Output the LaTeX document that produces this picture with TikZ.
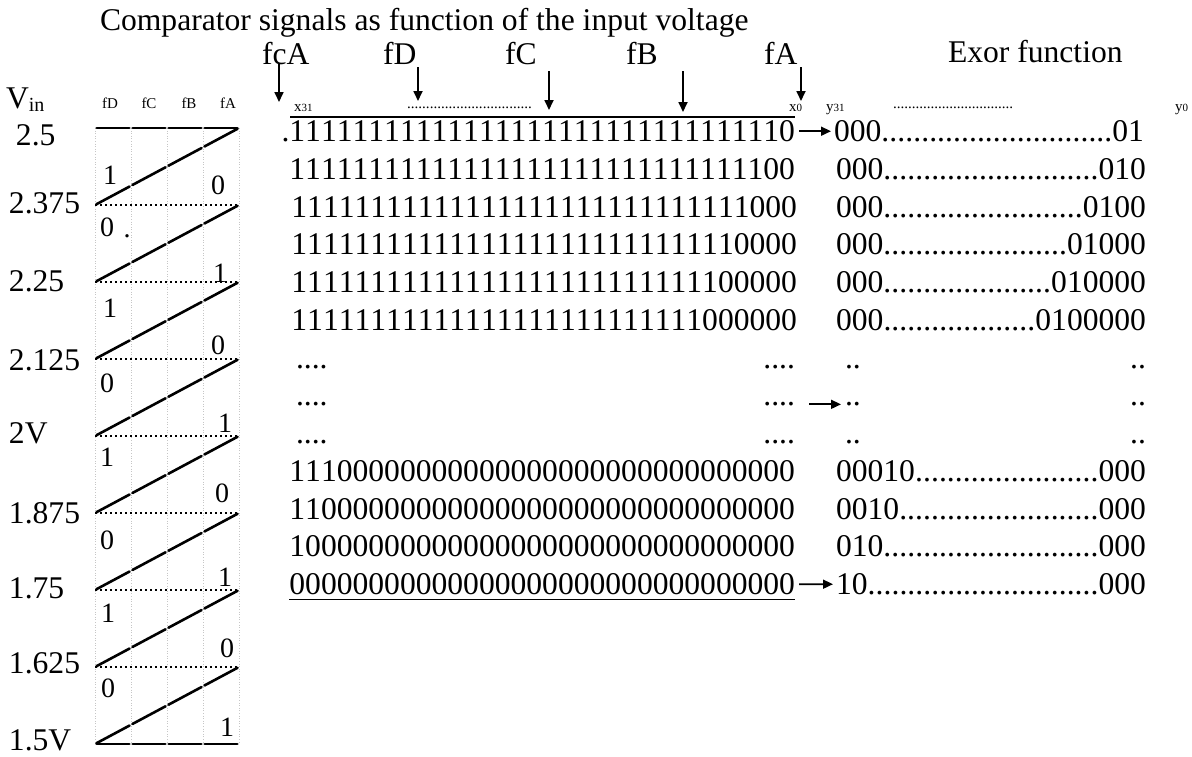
\documentclass[tikz,border=0pt]{standalone}
\usepackage{fontspec}
\setmainfont{Liberation Serif}
\usetikzlibrary{arrows.meta}

% repeat a character n times
\ExplSyntaxOn
\cs_new:Npn \digitrun #1#2 { \prg_replicate:nn {#1} {#2} }
\ExplSyntaxOff

\newcommand\bigsz{\fontsize{31.6}{36}\selectfont}
\newcommand\rowsz{\fontsize{31.6}{36}\selectfont\addfontfeatures{Kerning=Off}}
\newcommand\midsz{\fontsize{28}{30}\selectfont}
\newcommand\smallsz{\fontsize{15}{17}\selectfont}
\newcommand\subsz{\fontsize{11}{12}\selectfont}
\newcommand\dotrun[1]{\hbox to #1{\xleaders\hbox{.}\hfill}}
\newcommand\exrow[2]{\hbox to 310pt{#1\xleaders\hbox{.}\hfill #2}}

\begin{document}
\begin{tikzpicture}[x=1pt,y=-1pt,
  txt/.style={inner sep=0pt, outer sep=0pt, font=\bigsz},
  bitrow/.style={inner sep=0pt, outer sep=0pt, font=\rowsz, anchor=base east},
  leftdots/.style={inner sep=0pt, outer sep=0pt, font=\rowsz, anchor=base west},
  lvl/.style={txt, anchor=west},
  bitlbl/.style={inner sep=0pt, outer sep=0pt, font=\midsz},
  hdr/.style={inner sep=0pt, outer sep=0pt, font=\smallsz, anchor=base},
  idx/.style={inner sep=0pt, outer sep=0pt, font=\smallsz, anchor=base west},
  saw/.style={line width=2.6pt, line cap=round, shorten <=1.6pt, shorten >=1.6pt},
  dotline/.style={line width=1.4pt, dash pattern=on 1.6pt off 3.4pt},
  gridv/.style={gray!45, line width=0.8pt, dash pattern=on 1pt off 1.6pt},
  arr/.style={line width=1.7pt, -{Triangle[length=10pt,width=9pt]}},
  rule/.style={line width=2.8pt}
]
\useasboundingbox (0,0) rectangle (1192,756);

% ---------- headings ----------
\node[txt, anchor=base west] (title) at (100,30) {Comparator signals as function of the input voltage};
\node[txt, anchor=base west] (exor) at (948,62) {Exor function};

% ---------- comparator waveforms ----------
\foreach \x in {95,131,167,203,239}
  \draw[gridv] (\x,128) -- (\x,744);
\foreach \k in {1,...,7}
  \draw[dotline] (95,{128+77*\k}) -- (239,{128+77*\k});
\foreach \j in {0,...,3} {
  \draw[saw] ({95+36*\j},128) -- ({95+36*(\j+1)},128);
  \draw[saw] ({95+36*\j},744) -- ({95+36*(\j+1)},744);
}
\foreach \k in {0,...,7}
  \foreach \j in {0,...,3}
    \draw[saw] ({95+36*\j},{205+77*\k-19.25*\j}) -- ({95+36*(\j+1)},{205+77*\k-19.25*(\j+1)});

% input voltage levels
\node[txt, anchor=base west] (vin) at (6,108) {V\raisebox{-3pt}{\fontsize{20}{20}\selectfont in}};
\foreach \t/\x/\y [count=\i] in {2.5/16/135, 2.375/9/203, 2.25/9/281, 2.125/9/360, 2V/9/433,
    1.875/9/513, 1.75/9/588, 1.625/9/663, 1.5V/9/740}
  \node[lvl] (v\i) at (\x,\y) {\t};

% comparator column heads
\foreach \t/\x in {fD/110, fC/149, fB/189, fA/228}
  \node[hdr] (h\t) at (\x,108) {\t};

% output values inside the waveform panel
\foreach \t/\x/\y [count=\i] in {1/110/175, 0/218/185, 0/107/227, 1/220/273, 1/110/308, 0/218/345,
    0/107/383, 1/225/423, 1/107/457, 0/222/493, 0/107/540, 1/225/577,
    1/108/613, 0/227/648, 0/108/688, 1/227/727}
  \node[bitlbl] (b\i) at (\x,\y) {\t};
\node[bitlbl] (bdot) at (127,236) {.};

% ---------- thermometer code ----------
\node[txt, anchor=base west] (fcA) at (262,64) {fcA};
\node[txt, anchor=base west] (fD) at (383,64) {fD};
\node[txt, anchor=base west] (fC) at (505,64) {fC};
\node[txt, anchor=base west] (fB) at (626,64) {fB};
\node[txt, anchor=base west] (fA) at (764,64) {fA};
\coordinate (fcAtip) at (279,102);
\coordinate (fDtip) at (418,101);
\coordinate (fCtip) at (549,110);
\coordinate (fBtip) at (683,112);
\coordinate (fAtip) at (801,101);
\draw[arr] (fcAtip |- fcA.base) -- (fcAtip);
\draw[arr] ([yshift=-3pt]fDtip |- fD.base) -- (fDtip);
\draw[arr] ([yshift=-7pt]fCtip |- fC.base) -- (fCtip);
\draw[arr] ([yshift=-7pt]fBtip |- fB.base) -- (fBtip);
\draw[arr] ([yshift=-3pt]fAtip |- fA.base) -- (fAtip);

\node[idx] (x31) at (294,111) {x{\subsz 31}};
\node[idx] (xdots) at (407,108) {\dotrun{125pt}};
\node[idx] (x0) at (789,111) {x{\subsz 0}};
\draw[rule] (290,117) -- (795,117);

\node[bitrow] (r1) at (795,141.5) {.\digitrun{31}{1}0};
\node[bitrow] (r2) at (795,179.25) {\digitrun{30}{1}00};
\node[bitrow] (r3) at (797,217) {\digitrun{29}{1}000};
\node[bitrow] (r4) at (797,254.75) {\digitrun{28}{1}0000};
\node[bitrow] (r5) at (797,292.5) {\digitrun{27}{1}00000};
\node[bitrow] (r6) at (797,330.25) {\digitrun{26}{1}000000};
\foreach \y [count=\i from 7] in {368,405.75,443.5} {
  \node[leftdots] (l\i) at (296,\y) {....};
  \node[bitrow] (r\i) at (795,\y) {....};
}
\node[bitrow] (r10) at (795,481.25) {111\digitrun{29}{0}};
\node[bitrow] (r11) at (795,519) {11\digitrun{30}{0}};
\node[bitrow] (r12) at (795,556.75) {1\digitrun{31}{0}};
\node[bitrow] (r13) at (795,594.5) {\digitrun{32}{0}};
\draw[line width=1.6pt] ([yshift=-5pt]r13.base west) -- ([yshift=-5pt]r13.base east);

% ---------- exor outputs ----------
\node[idx] (y31) at (826,111) {y{\subsz 31}};
\node[idx] (ydots) at (893,108) {\dotrun{120pt}};
\node[idx] (y0) at (1175,111) {y{\subsz 0}};

\node[bitrow] (e1) at (1144,141.5) {\exrow{000}{01}};
\node[bitrow] (e2) at (1146,179.25) {\exrow{000}{010}};
\node[bitrow] (e3) at (1146,217) {\exrow{000}{0100}};
\node[bitrow] (e4) at (1146,254.75) {\exrow{000}{01000}};
\node[bitrow] (e5) at (1146,292.5) {\exrow{000}{010000}};
\node[bitrow] (e6) at (1146,330.25) {\exrow{000}{0100000}};
\foreach \y [count=\i from 7] in {368,405.75,443.5} {
  \node[leftdots] (m\i) at (845,\y) {..};
  \node[bitrow] (e\i) at (1146,\y) {..};
}
\node[bitrow] (e10) at (1146,481.25) {\exrow{00010}{000}};
\node[bitrow] (e11) at (1146,519) {\exrow{0010}{000}};
\node[bitrow] (e12) at (1146,556.75) {\exrow{010}{000}};
\node[bitrow] (e13) at (1146,594.5) {\exrow{10}{000}};

\draw[arr, shorten <=4pt, shorten >=3pt] (r1.east) -- (e1.west);
\draw[arr, shorten <=14pt, shorten >=4pt] (r8.east) -- (m8.west);
\draw[arr, shorten <=4pt, shorten >=3pt] (r13.east) -- (e13.west);
\end{tikzpicture}
\end{document}
